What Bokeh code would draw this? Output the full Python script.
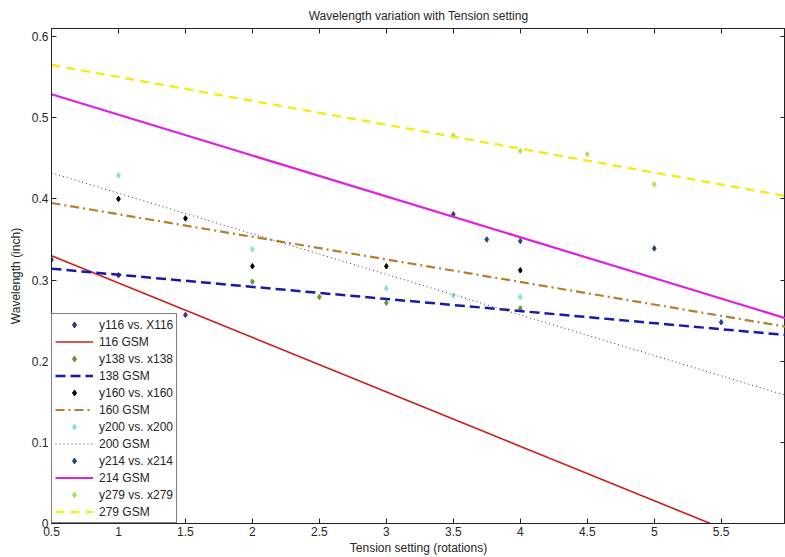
from bokeh.plotting import figure
from bokeh.models import (Range1d, FixedTicker, LinearAxis, Legend, LegendItem, Title,
                          CustomJSTickFormatter)
from bokeh.embed import file_html
from bokeh.resources import INLINE

# ---- data ----
x116 = [0.5, 1.0, 1.5]
y116 = [0.325, 0.306, 0.257]
x138 = [2.0, 2.5, 3.0, 4.0]
y138 = [0.298, 0.279, 0.272, 0.265]
x160 = [1.0, 1.5, 2.0, 3.0, 4.0]
y160 = [0.400, 0.376, 0.317, 0.317, 0.312]
x200 = [1.0, 2.0, 3.0, 3.5, 4.0]
y200 = [0.429, 0.338, 0.290, 0.281, 0.279]
x214 = [3.5, 3.75, 4.0, 5.0, 5.5]
y214 = [0.381, 0.350, 0.348, 0.339, 0.248]
x279 = [3.5, 4.0, 4.5, 5.0]
y279 = [0.478, 0.459, 0.455, 0.418]

fit_x = [0.5, 6.0]
fit116 = [0.330, -0.039]
fit138 = [0.314, 0.232]
fit160 = [0.395, 0.242]
fit200 = [0.432, 0.157]
fit214 = [0.529, 0.252]
fit279 = [0.565, 0.403]

x_ticks = [0.5, 1.0, 1.5, 2.0, 2.5, 3.0, 3.5, 4.0, 4.5, 5.0, 5.5, 6.0]
x_tick_labels = ["0.5", "1", "1.5", "2", "2.5", "3", "3.5", "4", "4.5", "5", "5.5", "6"]
y_ticks = [0.0, 0.1, 0.2, 0.3, 0.4, 0.5, 0.6]
y_tick_labels = ["0", "0.1", "0.2", "0.3", "0.4", "0.5", "0.6"]

title_text = "Wavelength variation with Tension setting"
x_label = "Tension setting (rotations)"
y_label = "Wavelength (inch)"

FONT = "Liberation Sans"
TXT = "#262626"

p = figure(width=785, height=557, output_backend="svg", toolbar_location=None,
           x_range=Range1d(0.5, 5.98), y_range=Range1d(0.0, 0.61),
           min_border_left=51, min_border_right=0, min_border_top=28, min_border_bottom=34)
p.background_fill_color = "white"
p.border_fill_color = "white"
p.outline_line_color = "#222222"
p.outline_line_width = 1
p.xgrid.visible = False
p.ygrid.visible = False

p.title = Title(text=title_text, align="center", vertical_align="middle", text_font=FONT,
                text_font_size="12px", text_font_style="normal", text_color=TXT,
                offset=0, standoff=9)

def style_axis(ax, ticks, labels, show_labels=True):
    ax.ticker = FixedTicker(ticks=ticks)
    if show_labels:
        ax.major_label_overrides = {t: l for t, l in zip(ticks, labels)}
    else:
        ax.formatter = CustomJSTickFormatter(code="return ''")
    ax.major_tick_in = 5
    ax.major_tick_out = 0
    ax.minor_tick_in = 0
    ax.minor_tick_out = 0
    ax.axis_line_color = "#222222"
    ax.major_tick_line_color = "#222222"
    ax.major_label_text_font = FONT
    ax.major_label_text_font_size = "12px"
    ax.major_label_text_color = TXT
    ax.major_label_standoff = 3
    ax.axis_label_text_font = FONT
    ax.axis_label_text_font_size = "12px"
    ax.axis_label_text_font_style = "normal"
    ax.axis_label_text_color = TXT

style_axis(p.xaxis[0], x_ticks, x_tick_labels)
style_axis(p.yaxis[0], y_ticks, y_tick_labels)
p.xaxis[0].axis_label = x_label
p.xaxis[0].axis_label_standoff = 2
p.yaxis[0].axis_label = y_label
p.yaxis[0].axis_label_standoff = 6

top_ax = LinearAxis()
style_axis(top_ax, x_ticks, x_tick_labels, show_labels=False)
top_ax.major_label_standoff = 0
p.add_layout(top_ax, "above")
right_ax = LinearAxis()
style_axis(right_ax, y_ticks, y_tick_labels, show_labels=False)
right_ax.major_label_standoff = 0
p.add_layout(right_ax, "right")

items = []
def add_series(xs, ys, pcol, fy, lcol, lw, dash, name):
    s = p.scatter(xs, ys, marker="diamond", size=5.5, fill_color=pcol, line_color=pcol)
    l = p.line(fit_x, fy, line_color=lcol, line_width=lw, line_dash=dash)
    items.append(LegendItem(label=f"y{name} vs. {'X' if name == '116' else 'x'}{name}", renderers=[s]))
    items.append(LegendItem(label=f"{name} GSM", renderers=[l]))

add_series(x116, y116, "#4a2a7e", fit116, "#cc1f1f", 1.6, "solid", "116")
add_series(x138, y138, "#5e9a30", fit138, "#1a1aa8", 2.5, "10 5", "138")
add_series(x160, y160, "#000000", fit160, "#b57f2c", 2.2, "9 4 2 4", "160")
add_series(x200, y200, "#7fe3cc", fit200, "#3a3a3a", 1.0, "1 3", "200")
add_series(x214, y214, "#1f4b7a", fit214, "#de22de", 2.2, "solid", "214")
add_series(x279, y279, "#a5e35f", fit279, "#f2ec22", 2.5, "9 6", "279")

legend = Legend(items=items, location="bottom_left", margin=0, padding=3, spacing=2,
                glyph_width=38, glyph_height=15, label_height=15, label_standoff=6,
                label_text_font=FONT, label_text_font_size="12px", label_text_color=TXT,
                border_line_color="#000000", border_line_width=1,
                background_fill_color="white", background_fill_alpha=1.0)
p.add_layout(legend, "center")

open("out.html", "w").write(file_html(p, INLINE))
